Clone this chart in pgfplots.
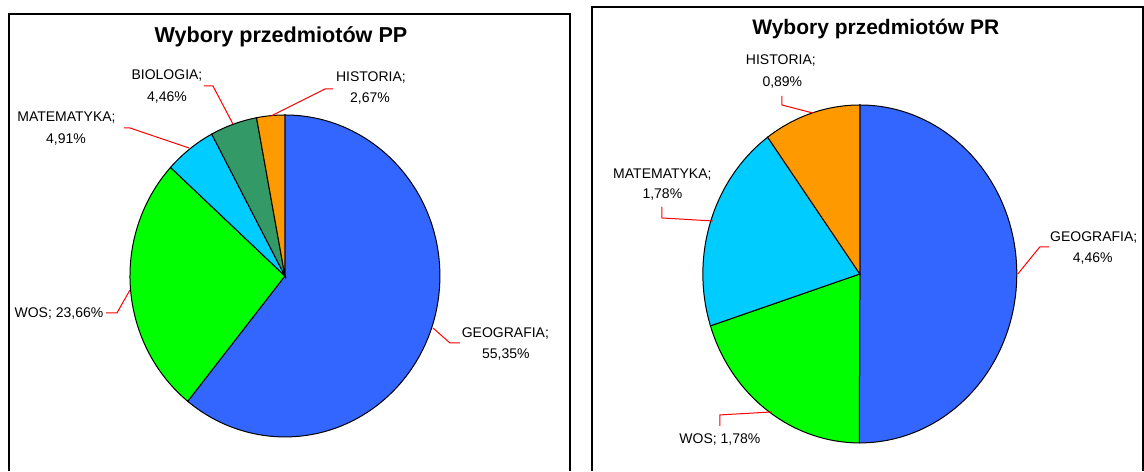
\documentclass[border=0pt]{standalone}
\usepackage{pgfplots}
\pgfplotsset{compat=1.18}
\usepackage{pgfplotstable}
\usepackage{fontspec}
\setmainfont{Liberation Sans}

\definecolor{cGeo}{HTML}{3366FF}
\definecolor{cWos}{HTML}{00FF00}
\definecolor{cMat}{HTML}{00CCFF}
\definecolor{cBio}{HTML}{339966}
\definecolor{cHis}{HTML}{FF9900}
\definecolor{lead}{HTML}{FF0000}

\pgfplotstableread[col sep=comma]{
subject,value,color
GEOGRAFIA,55.35,cGeo
WOS,23.66,cWos
MATEMATYKA,4.91,cMat
BIOLOGIA,4.46,cBio
HISTORIA,2.67,cHis
}\tablePP

\pgfplotstableread[col sep=comma]{
subject,value,color
GEOGRAFIA,4.46,cGeo
WOS,1.78,cWos
MATEMATYKA,1.78,cMat
HISTORIA,0.89,cHis
}\tablePR

% cumulative angles (clockwise from 12 o'clock)
\newcommand\pieangles[2]{%
  \gdef\pietotal{0}%
  \pgfplotstableforeachcolumnelement{value}\of#1\as\pieval{%
    \pgfmathsetmacro\pietmp{\pietotal+\pieval}\xdef\pietotal{\pietmp}}%
  \gdef\piecum{90}%
  \pgfplotstablegetrowsof{#1}%
  \expandafter\xdef\csname #2n\endcsname{\pgfplotsretval}%
  \pgfplotstableforeachcolumnelement{value}\of#1\as\pieval{%
    \expandafter\xdef\csname #2a\pgfplotstablerow\endcsname{\piecum}%
    \pgfmathsetmacro\pietmp{\piecum-(360/\pietotal)*\pieval}\xdef\piecum{\pietmp}%
    \expandafter\xdef\csname #2b\pgfplotstablerow\endcsname{\piecum}}%
  \pgfplotstableforeachcolumnelement{color}\of#1\as\piecol{%
    \expandafter\xdef\csname #2c\pgfplotstablerow\endcsname{\piecol}}%
}
\pieangles{\tablePP}{PP}
\pieangles{\tablePR}{PR}

\newcommand\slice[7]{%
  \fill[#7,draw=black,line width=0.5pt] (axis cs:#1,#2) -- (axis cs:{#1+#3*cos(#5)},{#2+#4*sin(#5)})
    arc[start angle=#5,end angle=#6,x radius={#3*0.5pt},y radius={#4*0.5pt}] -- cycle;}

\newcommand\drawpie[5]{%
  \pgfmathtruncatemacro\last{\csname #1n\endcsname-1}%
  \pgfplotsforeachungrouped \i in {0,...,\last}{%
    \edef\temp{\noexpand\slice{#2}{#3}{#4}{#5}{\csname #1a\i\endcsname}{\csname #1b\i\endcsname}{\csname #1c\i\endcsname}}\temp}}

\begin{document}
\begin{tikzpicture}
\begin{axis}[
  width=572pt, height=235.5pt, scale only axis,
  xmin=0, xmax=1144, ymin=0, ymax=471,
  hide axis, clip=false,
  every node/.style={text=black},
]
\path (axis cs:0,0) rectangle (axis cs:1144,471);
% frames
\draw[line width=1pt] (axis cs:9,0) -- (axis cs:9,456.7) -- (axis cs:570,456.7) -- (axis cs:570,0);
\draw[line width=1pt] (axis cs:592,0) -- (axis cs:592,464.5) -- (axis cs:1143,464.5) -- (axis cs:1143,0);

% pies
\drawpie{PP}{285}{195}{155}{161}
\drawpie{PR}{860}{197}{157}{169}

% titles
\node[anchor=base, font=\fontsize{10.8}{13}\selectfont\bfseries] at (axis cs:281,428) {Wybory przedmiotów PP};
\node[anchor=base, font=\fontsize{10.5}{13}\selectfont\bfseries] at (axis cs:876,436.5) {Wybory przedmiotów PR};

% leader lines PP
\draw[lead, line width=0.5pt] (axis cs:271,355) -- (axis cs:325,382) -- (axis cs:333,382);
\draw[lead, line width=0.5pt] (axis cs:233,347) -- (axis cs:213,385) -- (axis cs:204,385);
\draw[lead, line width=0.5pt] (axis cs:189,323) -- (axis cs:130,343) -- (axis cs:124,343);
\draw[lead, line width=0.5pt] (axis cs:130,181) -- (axis cs:117,158) -- (axis cs:106,158);
\draw[lead, line width=0.5pt] (axis cs:433,143) -- (axis cs:450,128) -- (axis cs:460,128);
% leader lines PR
\draw[lead, line width=0.5pt] (axis cs:813,358) -- (axis cs:782,366) -- (axis cs:782,375);
\draw[lead, line width=0.5pt] (axis cs:713,250) -- (axis cs:662,253) -- (axis cs:662,264);
\draw[lead, line width=0.5pt] (axis cs:1018,197) -- (axis cs:1040,224) -- (axis cs:1049,224);
\draw[lead, line width=0.5pt] (axis cs:772,59) -- (axis cs:720,56) -- (axis cs:720,45);

% labels PP
\begin{scope}[every node/.append style={anchor=base, font=\fontsize{7}{9}\selectfont}]
\node at (axis cs:167,391) {BIOLOGIA;};
\node at (axis cs:167,369.3) {4,46\%};
\node at (axis cs:371,389.3) {HISTORIA;};
\node at (axis cs:370,368) {2,67\%};
\node at (axis cs:66.5,349.3) {MATEMATYKA;};
\node at (axis cs:66,327) {4,91\%};
\node at (axis cs:59,153.3) {WOS; 23,66\%};
\node at (axis cs:505.5,133.7) {GEOGRAFIA;};
\node at (axis cs:506,112.7) {55,35\%};
% labels PR
\node at (axis cs:781,406) {HISTORIA;};
\node at (axis cs:782.5,384.3) {0,89\%};
\node at (axis cs:662.5,292.7) {MATEMATYKA;};
\node at (axis cs:662.5,272.7) {1,78\%};
\node at (axis cs:1094,229.3) {GEOGRAFIA;};
\node at (axis cs:1093,208.3) {4,46\%};
\node at (axis cs:720,27) {WOS; 1,78\%};
\end{scope}
\end{axis}
\end{tikzpicture}
\end{document}
